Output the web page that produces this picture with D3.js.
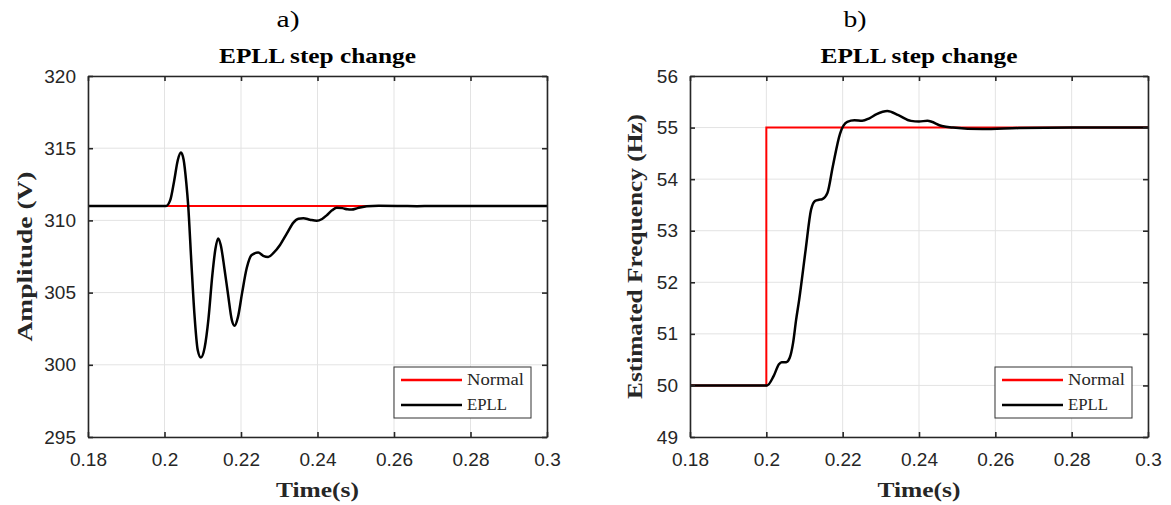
<!DOCTYPE html>
<html>
<head>
<meta charset="utf-8">
<script src="https://cdn.jsdelivr.net/npm/d3@7"></script>
<style>
  html, body { margin: 0; padding: 0; background: #fff; }
  svg { display: block; }
</style>
</head>
<body>
<svg id="chart" width="1171" height="505"></svg>
<script>
// ---- data ----
const timeDomain = [0.18, 0.3];
const timeTicks = [0.18, 0.2, 0.22, 0.24, 0.26, 0.28, 0.3];
const timeTickLabels = ["0.18", "0.2", "0.22", "0.24", "0.26", "0.28", "0.3"];

const ampTicks = [295, 300, 305, 310, 315, 320];
const freqTicks = [49, 50, 51, 52, 53, 54, 55, 56];

// Amplitude reference (Normal)
const ampNormalT = [0.18, 0.3];
const ampNormalV = [311, 311];

// Amplitude estimated by the EPLL
const ampEpllT = [0.18, 0.2, 0.2004, 0.2015, 0.2025, 0.2035, 0.2043, 0.2050, 0.2057, 0.2062,
  0.2070, 0.2078, 0.2087, 0.2095, 0.2105, 0.2115, 0.2125, 0.2133, 0.2140, 0.2147,
  0.2157, 0.2166, 0.2176, 0.2183, 0.2192, 0.2203, 0.2215, 0.2228, 0.2245, 0.2258,
  0.2271, 0.2285, 0.2302, 0.2320, 0.2337, 0.2350, 0.2363, 0.2380, 0.2398, 0.2412,
  0.2424, 0.2438, 0.2450, 0.2465, 0.2478, 0.2489, 0.2505, 0.2529, 0.2560, 0.2620,
  0.2660, 0.2700, 0.2800, 0.3];
const ampEpllV = [311, 311, 311, 311.4, 312.7, 314.2, 314.7, 314.2, 312.6, 311,
  307.2, 303.6, 301.0, 300.5, 301.2, 303.2, 306.2, 308.0, 308.75, 308.3,
  306.6, 304.9, 303.1, 302.7, 303.3, 305.0, 306.7, 307.6, 307.77, 307.55,
  307.47, 307.75, 308.3, 309.1, 309.85, 310.12, 310.15, 310.05, 309.97, 310.1,
  310.35, 310.7, 310.88, 310.85, 310.77, 310.75, 310.85, 310.98, 311.02, 311.0,
  310.98, 311.0, 310.99, 311];

// Frequency reference (Normal): step from 50 Hz to 55 Hz at t = 0.2 s
const freqNormalT = [0.18, 0.2, 0.2, 0.3];
const freqNormalV = [50, 50, 55, 55];

// Frequency estimated by the EPLL
const freqEpllT = [0.18, 0.2, 0.2002, 0.2019, 0.2033, 0.2040, 0.2052, 0.2061, 0.2070, 0.2078,
  0.2086, 0.2103, 0.2117, 0.2128, 0.2138, 0.2146, 0.2160, 0.2174, 0.2193, 0.2212,
  0.2231, 0.2251, 0.2270, 0.2289, 0.2317, 0.2346, 0.2379, 0.2400, 0.2422, 0.2460,
  0.2489, 0.2566, 0.2661, 0.2800, 0.3];
const freqEpllV = [50, 50, 50, 50.18, 50.41, 50.45, 50.45, 50.53, 50.82, 51.27,
  51.66, 52.63, 53.40, 53.58, 53.60, 53.61, 53.73, 54.24, 54.88, 55.11,
  55.14, 55.13, 55.18, 55.26, 55.32, 55.24, 55.13, 55.12, 55.13, 55.03,
  55.0, 54.97, 54.99, 55.0, 55.0];

const seriesNames = ["Normal", "EPLL"];
const seriesColors = ["#ff0000", "#000000"];

// ---- drawing ----
const svg = d3.select("#chart");
const serif = "'Palatino Linotype', 'Book Antiqua', Palatino, 'Liberation Serif', serif";
const sans = "'Liberation Sans', Arial, Helvetica, sans-serif";

function zip(ts, vs) { return ts.map((t, i) => [t, vs[i]]); }

// serif text stretched to the width Palatino would give it
function serifText(sel, size, weight, width) {
  sel.style("font-family", serif).style("font-size", size + "px").style("font-weight", weight);
  if (width) sel.attr("textLength", width).attr("lengthAdjust", "spacingAndGlyphs");
  return sel;
}

function panel(opts) {
  const { left, right, top, bottom, yDomain, yTicks, yLabel, yLabelWidth, letter, letterX,
          normal, epll, yLabelX } = opts;
  const x = d3.scaleLinear().domain(timeDomain).range([left, right]);
  const y = d3.scaleLinear().domain(yDomain).range([bottom, top]);
  const g = svg.append("g");

  // grid
  g.append("g").selectAll("line").data(timeTicks).join("line")
    .attr("x1", d => x(d)).attr("x2", d => x(d))
    .attr("y1", top).attr("y2", bottom)
    .attr("stroke", "#e3e3e3").attr("stroke-width", 1);
  g.append("g").selectAll("line").data(yTicks).join("line")
    .attr("x1", left).attr("x2", right)
    .attr("y1", d => y(d)).attr("y2", d => y(d))
    .attr("stroke", "#e3e3e3").attr("stroke-width", 1);

  // series
  const clipId = "clip" + letter;
  g.append("clipPath").attr("id", clipId).append("rect")
    .attr("x", left).attr("y", top - 2).attr("width", right - left).attr("height", bottom - top + 4);
  const plot = g.append("g").attr("clip-path", `url(#${clipId})`);
  const lineStep = d3.line().x(d => x(d[0])).y(d => y(d[1]));
  const lineSmooth = d3.line().x(d => x(d[0])).y(d => y(d[1])).curve(d3.curveMonotoneX);

  plot.append("path").datum(normal).attr("d", lineStep)
    .attr("fill", "none").attr("stroke", seriesColors[0]).attr("stroke-width", 2);
  plot.append("path").datum(epll).attr("d", lineSmooth)
    .attr("fill", "none").attr("stroke", seriesColors[1]).attr("stroke-width", 2.5)
    .attr("stroke-linejoin", "round");

  // axes with inward ticks on all four sides
  const tickLen = 5;
  const axB = d3.axisBottom(x).tickValues(timeTicks).tickSizeInner(-tickLen).tickSizeOuter(0)
    .tickPadding(16).tickFormat((d, i) => timeTickLabels[i]);
  const axT = d3.axisTop(x).tickValues(timeTicks).tickSizeInner(-tickLen).tickSizeOuter(0).tickFormat("");
  const axL = d3.axisLeft(y).tickValues(yTicks).tickSizeInner(-tickLen).tickSizeOuter(0)
    .tickPadding(12).tickFormat(d3.format("d"));
  const axR = d3.axisRight(y).tickValues(yTicks).tickSizeInner(-tickLen).tickSizeOuter(0).tickFormat("");

  const styleAxis = sel => {
    sel.selectAll("path").attr("stroke", "#262626").attr("stroke-width", 1.6);
    sel.selectAll("line").attr("stroke", "#262626").attr("stroke-width", 1.6);
    sel.selectAll("text").attr("fill", "#262626").style("font-family", sans).style("font-size", "19px");
  };
  g.append("g").attr("transform", `translate(0,${bottom})`).call(axB).call(styleAxis);
  g.append("g").attr("transform", `translate(0,${top})`).call(axT).call(styleAxis);
  g.append("g").attr("transform", `translate(${left},0)`).call(axL).call(styleAxis);
  g.append("g").attr("transform", `translate(${right},0)`).call(axR).call(styleAxis);

  // labels
  const cx = (left + right) / 2;
  g.append("text").attr("x", letterX).attr("y", 27).attr("text-anchor", "middle")
    .attr("fill", "#000").text(letter + ")").call(serifText, 24, "normal", 23);
  g.append("text").attr("x", cx).attr("y", 63).attr("text-anchor", "middle")
    .attr("fill", "#000").text("EPLL step change").call(serifText, 22, "bold", 197);
  g.append("text").attr("x", cx).attr("y", 497).attr("text-anchor", "middle")
    .attr("fill", "#262626").text("Time(s)").call(serifText, 22, "bold", 83);
  g.append("text")
    .attr("transform", `translate(${yLabelX},${(top + bottom) / 2}) rotate(-90)`)
    .attr("text-anchor", "middle")
    .attr("fill", "#262626").text(yLabel).call(serifText, 22, "bold", yLabelWidth);

  // legend
  const lw = 137, lh = 51;
  const lx = right - 16 - lw, ly = bottom - 19 - lh;
  const leg = g.append("g").attr("transform", `translate(${lx},${ly})`);
  leg.append("rect").attr("width", lw).attr("height", lh)
    .attr("fill", "#fff").attr("stroke", "#333").attr("stroke-width", 1);
  const legWidths = [57, 40];
  seriesNames.forEach((name, i) => {
    const yy = 13 + i * 25;
    leg.append("line").attr("x1", 7).attr("x2", 68).attr("y1", yy).attr("y2", yy)
      .attr("stroke", seriesColors[i]).attr("stroke-width", 2.5);
    leg.append("text").attr("x", 73).attr("y", yy + 5)
      .attr("fill", "#262626").text(name).call(serifText, 17, "normal", legWidths[i]);
  });
}

panel({
  left: 88, right: 547, top: 76, bottom: 437,
  yDomain: [295, 320], yTicks: ampTicks, yLabel: "Amplitude (V)", yLabelWidth: 170,
  letter: "a", letterX: 288, yLabelX: 32,
  normal: zip(ampNormalT, ampNormalV), epll: zip(ampEpllT, ampEpllV)
});
panel({
  left: 690, right: 1148, top: 76, bottom: 437,
  yDomain: [49, 56], yTicks: freqTicks, yLabel: "Estimated Frequency (Hz)", yLabelWidth: 285,
  letter: "b", letterX: 855, yLabelX: 642,
  normal: zip(freqNormalT, freqNormalV), epll: zip(freqEpllT, freqEpllV)
});
</script>
</body>
</html>
